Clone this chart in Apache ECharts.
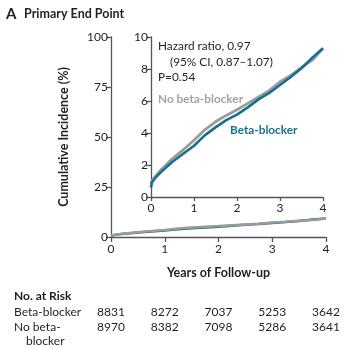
<!DOCTYPE html>
<html><head><meta charset="utf-8">
<script src="https://cdn.jsdelivr.net/npm/echarts@6/dist/echarts.min.js"></script>
<style>html,body{margin:0;padding:0;background:#fff}#c{width:353px;height:348px}</style>
</head><body><div id="c"></div>
<script>
// Years of follow-up
var years = [0, 0.02, 0.1, 0.25, 0.5, 0.75, 1.0, 1.25, 1.5, 1.75, 2.0, 2.25, 2.5, 2.75, 3.0, 3.25, 3.5, 3.75, 4.0];
// Cumulative incidence (%)
var betaBlocker   = [0.6, 0.9, 1.2, 1.6, 2.2, 2.7, 3.2, 3.85, 4.35, 4.8, 5.15, 5.6, 6.1, 6.5, 7.0, 7.5, 8.05, 8.7, 9.3];
var noBetaBlocker = [0.8, 1.0, 1.3, 1.75, 2.4, 2.95, 3.55, 4.2, 4.7, 5.1, 5.45, 5.85, 6.25, 6.65, 7.2, 7.6, 8.1, 8.55, 9.3];
// Number at risk
var riskYears = [0, 1, 2, 3, 4];
var riskBeta   = [8831, 8272, 7037, 5253, 3642];
var riskNoBeta = [8970, 8382, 7098, 5286, 3641];

var FONT = 'Lato, "Open Sans", sans-serif';
var BLUE = '#16708f', GRAY = '#9b9b9b', AX = '#555', TXT = '#231f20';

function pairs(ys){ return years.map(function(t,i){return [t, ys[i]];}); }

var chart = echarts.init(document.getElementById('c'));
function axisCommon(){
  return {
    axisLine:{show:true,lineStyle:{color:AX,width:1.3}},
    axisTick:{show:true,lineStyle:{color:AX,width:1.3},length:5},
    axisLabel:{color:TXT,fontFamily:FONT,fontSize:12},
    splitLine:{show:false}
  };
}
var x0 = Object.assign(axisCommon(), {gridIndex:0,type:'value',min:0,max:4,interval:1,
  name:'Years of Follow-up',nameLocation:'middle',nameGap:29,
  nameTextStyle:{color:TXT,fontFamily:FONT,fontSize:12.5,fontWeight:'bold'}});
x0.axisLabel = {color:TXT,fontFamily:FONT,fontSize:12,margin:6};
var y0 = Object.assign(axisCommon(), {gridIndex:0,type:'value',min:0,max:100,interval:25,
  name:'Cumulative Incidence (%)',nameLocation:'middle',nameGap:41,
  nameTextStyle:{color:TXT,fontFamily:FONT,fontSize:12.5,fontWeight:'bold'}});
y0.axisLabel = {color:TXT,fontFamily:FONT,fontSize:12,margin:3};
var x1 = Object.assign(axisCommon(), {gridIndex:1,type:'value',min:0,max:4,interval:1});
x1.axisTick = {show:true,lineStyle:{color:AX,width:1.3},length:4};
x1.axisLabel = {color:TXT,fontFamily:FONT,fontSize:12,margin:5};
var y1 = Object.assign(axisCommon(), {gridIndex:1,type:'value',min:0,max:10,interval:2});
y1.axisLabel = {color:TXT,fontFamily:FONT,fontSize:12,margin:3};

function line(name, ys, color, xi, w){
  return {type:'line',name:name,xAxisIndex:xi,yAxisIndex:xi,data:pairs(ys),
    showSymbol:false,smooth:false,animation:false,
    lineStyle:{color:color,width:w},z:3};
}

chart.setOption({
  animation:false,
  grid:[{left:111,top:37,width:215,height:200,containLabel:false},
        {left:151,top:37,width:172,height:160,containLabel:false}],
  xAxis:[x0,x1],
  yAxis:[y0,y1],
  series:[
    line('Beta-blocker', betaBlocker, BLUE, 0, 2.5),
    line('No beta-blocker', noBetaBlocker, GRAY, 0, 2.5),
    line('No beta-blocker', noBetaBlocker, GRAY, 1, 2.8),
    line('Beta-blocker', betaBlocker, BLUE, 1, 2.6)
  ]
});

var g = [];
function txt(x,y,s,opt){
  opt = opt||{};
  g.push({type:'text',left:undefined,x:x,y:y,style:{text:s,fill:opt.fill||TXT,
    font:(opt.weight||'normal')+' '+(opt.size||12)+'px '+FONT,
    textAlign:opt.align||'left',textVerticalAlign:'middle'}});
}
txt(6,14,'A',{weight:'bold',size:15});
txt(24,14,'Primary End Point',{weight:'bold',size:12.5});
txt(158,46,'Hazard ratio, 0.97',{size:11.8});
txt(170,62,'(95% CI, 0.87\u20131.07)',{size:11.8});
txt(158,77,'P=0.54',{size:11.8});
txt(158,99,'No beta-blocker',{weight:'bold',size:11.8,fill:'#a3a3a3'});
txt(230,130,'Beta-blocker',{weight:'bold',size:11.8,fill:BLUE});
txt(14,296,'No. at Risk',{weight:'bold',size:12});
txt(14,312,'Beta-blocker',{size:12});
txt(14,327,'No beta-',{size:12});
txt(26,341,'blocker',{size:12});
riskYears.forEach(function(t,i){
  var px = chart.convertToPixel({xAxisIndex:0}, t);
  txt(px,312,String(riskBeta[i]),{size:12,align:'center'});
  txt(px,327,String(riskNoBeta[i]),{size:12,align:'center'});
});
chart.setOption({graphic:g});
</script></body></html>
